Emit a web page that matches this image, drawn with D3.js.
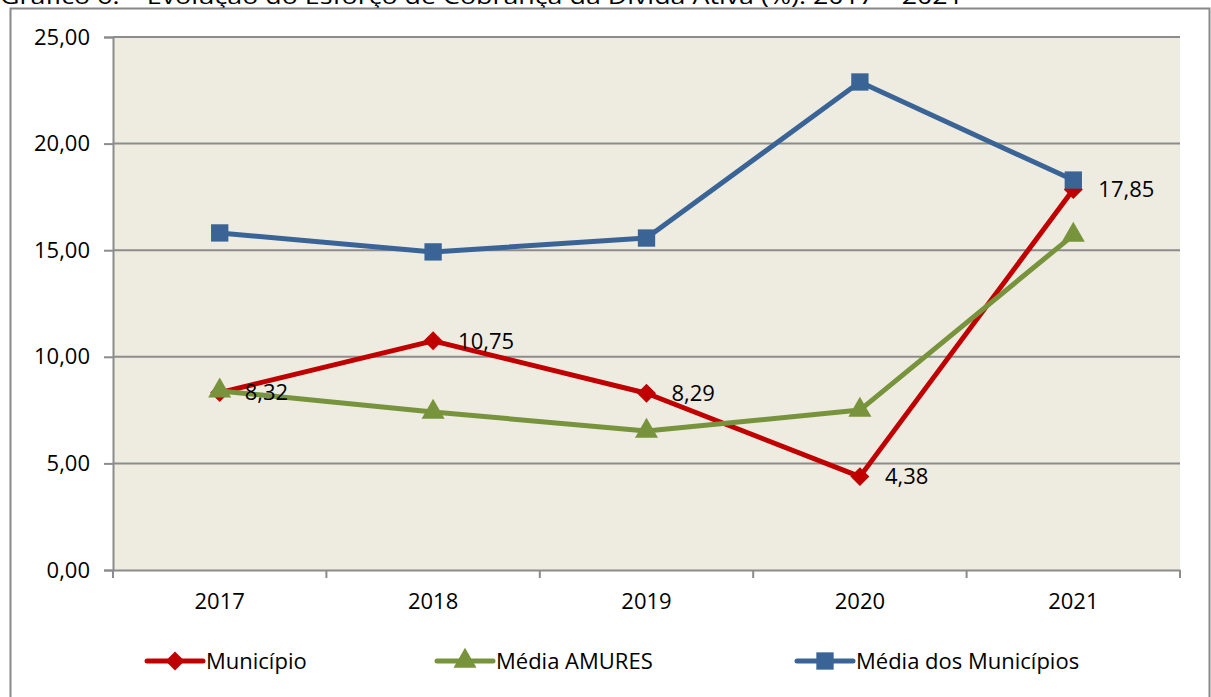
<!DOCTYPE html>
<html><head><meta charset="utf-8">
<script src="https://cdn.jsdelivr.net/npm/d3@7"></script>
<style>body{margin:0;background:#fff;} svg{display:block;font-family:"Open Sans",Lato,sans-serif;}</style>
</head><body>
<script>
const categories = ["2017","2018","2019","2020","2021"];
const municipio = [8.32, 10.75, 8.29, 4.38, 17.85];
const mediaAmures = [8.40, 7.41, 6.52, 7.50, 15.71];
const mediaMunicipios = [15.81, 14.92, 15.57, 22.89, 18.29];
const yTicks = [0, 5, 10, 15, 20, 25];
const seriesNames = ["Município", "Média AMURES", "Média dos Municípios"];
const titleText = "Gráfico 6: – Evolução do Esforço de Cobrança da Dívida Ativa (%): 2017 – 2021";

const W = 1211, H = 697;
const FS = 22;
const svg = d3.select("body").append("svg").attr("width", W).attr("height", H);
const fmt = v => d3.format(".2f")(v).replace(".", ",");

// title (cut off at top, as in the reference)
svg.append("text").attr("x", 0).attr("y", 4).attr("font-size", 22).attr("fill", "#000")
  .attr("textLength", 963).attr("lengthAdjust", "spacingAndGlyphs").text(titleText);

// outer border
svg.append("rect").attr("x", 10.5).attr("y", 8.5).attr("width", 1199).attr("height", 700)
  .attr("fill", "none").attr("stroke", "#888").attr("stroke-width", 2);

const L = 113, R = 1180, T = 37, B = 570;
const x = d3.scaleBand().domain(categories).range([L, R]);
const y = d3.scaleLinear().domain([0, 25]).range([B, T]);

svg.append("rect").attr("x", L).attr("y", T).attr("width", R - L).attr("height", B - T).attr("fill", "#EEEBE1");

// gridlines
svg.append("g").selectAll("line").data(yTicks.filter(d => d > 0)).join("line")
  .attr("x1", L).attr("x2", R).attr("y1", d => y(d)).attr("y2", d => y(d))
  .attr("stroke", "#8c8c8c").attr("stroke-width", 2);

// y axis
const yAxis = svg.append("g").attr("transform", `translate(${L},0)`)
  .call(d3.axisLeft(y).tickValues(yTicks).tickFormat(fmt).tickSize(9).tickPadding(14));
yAxis.select(".domain").attr("stroke", "#8c8c8c").attr("stroke-width", 2);
yAxis.selectAll(".tick line").attr("stroke", "#8c8c8c").attr("stroke-width", 2);
yAxis.selectAll("text").attr("font-size", FS).attr("fill", "#000").attr("font-family", "Open Sans");

// x axis
const xAxis = svg.append("g").attr("transform", `translate(0,${B})`)
  .call(d3.axisBottom(x).tickSize(0).tickPadding(23));
xAxis.select(".domain").attr("stroke", "#8c8c8c").attr("stroke-width", 2);
xAxis.selectAll("text").attr("font-size", FS).attr("fill", "#000").attr("font-family", "Open Sans");
const bounds = categories.map(c => x(c)).concat([R]);
xAxis.selectAll(".bt").data(bounds).join("line").attr("class", "bt")
  .attr("x1", d => d).attr("x2", d => d).attr("y1", 0).attr("y2", 8)
  .attr("stroke", "#8c8c8c").attr("stroke-width", 2);

const cx = c => x(c) + x.bandwidth() / 2;
const series = [
  {name: seriesNames[0], data: municipio, color: "#C00000", sym: d3.symbolSquare, size: 180, rot: 45},
  {name: seriesNames[1], data: mediaAmures, color: "#77933C", sym: d3.symbolTriangle, size: 230, rot: 0},
  {name: seriesNames[2], data: mediaMunicipios, color: "#3A6496", sym: d3.symbolSquare, size: 300, rot: 0}
];
const line = d3.line().x((d, i) => cx(categories[i])).y(d => y(d));
series.forEach(s => {
  svg.append("path").datum(s.data).attr("d", line).attr("fill", "none")
    .attr("stroke", s.color).attr("stroke-width", 5).attr("stroke-linejoin", "round");
  svg.append("g").selectAll("path").data(s.data).join("path")
    .attr("transform", (d, i) => `translate(${cx(categories[i])},${y(d)}) rotate(${s.rot})`)
    .attr("d", d3.symbol().type(s.sym).size(s.size)).attr("fill", s.color);
});

// data labels for Município
svg.append("g").selectAll("text").data(municipio).join("text")
  .attr("x", (d, i) => cx(categories[i]) + 25).attr("y", d => y(d))
  .attr("dy", "0.35em").attr("font-size", FS).attr("fill", "#000").text(fmt);

// legend
const legX = [147, 437, 797];
series.forEach((s, i) => {
  const g = svg.append("g").attr("transform", `translate(${legX[i]},661)`);
  g.append("line").attr("x1", 0).attr("x2", 56).attr("stroke", s.color).attr("stroke-width", 5).attr("stroke-linecap", "round");
  g.append("path").attr("transform", `translate(28,0) rotate(${s.rot})`).attr("d", d3.symbol().type(s.sym).size(s.size)).attr("fill", s.color);
  g.append("text").attr("x", 59).attr("dy", "0.35em").attr("font-size", FS).attr("fill", "#000").text(s.name);
});
</script>
</body></html>
